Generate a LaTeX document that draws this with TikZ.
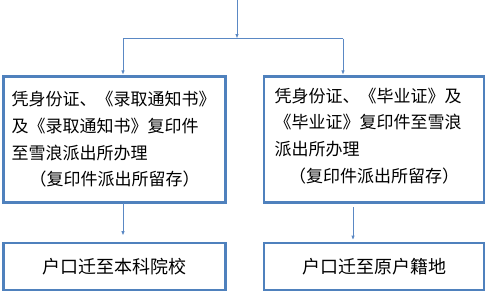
\documentclass[tikz,border=0pt]{standalone}
\usepackage{fontspec}
\setmainfont{Noto Sans CJK SC}
\usetikzlibrary{arrows.meta}
\definecolor{boxblue}{HTML}{4F81BD}
\definecolor{arrblue}{HTML}{5A88C4}
\begin{document}
\begin{tikzpicture}[x=1pt,y=-1pt,
  box/.style={draw=boxblue,line width=2.8pt,inner sep=0pt,
    font=\fontsize{17}{26.7}\selectfont},
  bottombox/.style={box,font=\fontsize{18}{24}\selectfont},
  arr/.style={draw=arrblue,line width=0.9pt,-{Latex[length=4.5pt,width=3.5pt]}},
  conn/.style={draw=arrblue,line width=0.9pt}]
\useasboundingbox (0,0) rectangle (486,293);
\node[box,minimum width=222.5pt,minimum height=126.5pt,text width=206pt,align=left]
  (b1) at (114.5,139.5) {凭身份证、《录取通知书》\\及《录取通知书》复印件\\至雪浪派出所办理\\\makebox[\linewidth][c]{（复印件派出所留存）}};
\node[box,minimum width=220pt,minimum height=126.5pt,text width=199pt,align=left]
  (b2) at (374,139.5) {凭身份证、《毕业证》及\\《毕业证》复印件至雪浪\\派出所办理\\\makebox[\linewidth][c]{（复印件派出所留存）}\\[-18pt]\mbox{}};
\node[bottombox,minimum width=222.5pt,minimum height=47pt] (c1) at (114.5,266.5) {户口迁至本科院校};
\node[bottombox,minimum width=220pt,minimum height=47pt] (c2) at (374,266.5) {户口迁至原户籍地};
\coordinate (top) at (237,0);
\coordinate (split) at (237,38.5);
\coordinate (bl) at (123,38.5);
\coordinate (br) at (343,38.5);
\coordinate (dl) at (123,203);
\coordinate (dr) at (353,207);
\draw[arr] (top) -- (split);
\draw[conn] (bl) -- (br);
\draw[arr] (bl) -- (bl |- b1.north);
\draw[arr] (br) -- (br |- b2.north);
\draw[arr,shorten >=6pt] (dl) -- (dl |- c1.north);
\draw[arr,shorten >=1.5pt] (dr) -- (dr |- c2.north);
\end{tikzpicture}
\end{document}
